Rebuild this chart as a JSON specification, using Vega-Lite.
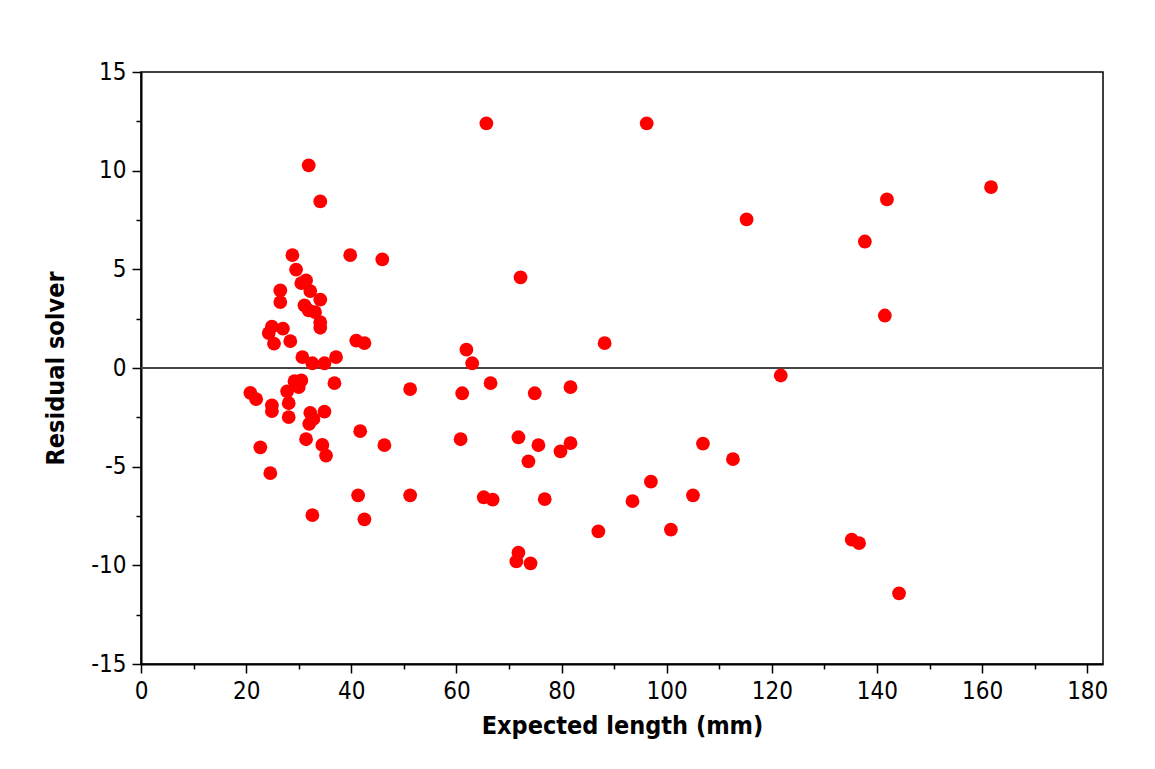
{
  "$schema": "https://vega.github.io/schema/vega-lite/v6.json",
  "width": 962,
  "height": 592,
  "autosize": "none",
  "padding": {"left": 141, "top": 72, "right": 52, "bottom": 105},
  "background": "white",
  "data": {
    "values": [
      {"expected": 20.8, "residual": -1.26}, {"expected": 21.9, "residual": -1.58},
      {"expected": 22.7, "residual": -4.02}, {"expected": 24.6, "residual": -5.33},
      {"expected": 24.9, "residual": -1.9}, {"expected": 24.9, "residual": -2.19},
      {"expected": 24.9, "residual": 2.1}, {"expected": 24.3, "residual": 1.77},
      {"expected": 25.3, "residual": 1.23}, {"expected": 27.0, "residual": 1.99},
      {"expected": 26.5, "residual": 3.93}, {"expected": 26.5, "residual": 3.34},
      {"expected": 28.4, "residual": 1.36}, {"expected": 28.8, "residual": 5.72},
      {"expected": 29.5, "residual": 4.99}, {"expected": 30.5, "residual": 4.3},
      {"expected": 31.4, "residual": 4.44}, {"expected": 32.2, "residual": 3.9},
      {"expected": 34.1, "residual": 3.47}, {"expected": 31.1, "residual": 3.17},
      {"expected": 31.9, "residual": 2.92}, {"expected": 33.1, "residual": 2.83},
      {"expected": 34.1, "residual": 2.32}, {"expected": 34.1, "residual": 2.04},
      {"expected": 31.9, "residual": 10.27}, {"expected": 34.1, "residual": 8.44},
      {"expected": 30.7, "residual": 0.55}, {"expected": 32.6, "residual": 0.24},
      {"expected": 34.9, "residual": 0.24}, {"expected": 37.1, "residual": 0.55},
      {"expected": 29.2, "residual": -0.67}, {"expected": 30.5, "residual": -0.63},
      {"expected": 30.0, "residual": -0.97}, {"expected": 27.8, "residual": -1.18},
      {"expected": 36.8, "residual": -0.77}, {"expected": 28.1, "residual": -1.78},
      {"expected": 28.1, "residual": -2.49}, {"expected": 32.2, "residual": -2.27},
      {"expected": 32.8, "residual": -2.58}, {"expected": 32.0, "residual": -2.83},
      {"expected": 34.9, "residual": -2.21}, {"expected": 31.4, "residual": -3.61},
      {"expected": 34.5, "residual": -3.9}, {"expected": 35.2, "residual": -4.44},
      {"expected": 32.6, "residual": -7.46}, {"expected": 39.8, "residual": 5.72},
      {"expected": 45.9, "residual": 5.5}, {"expected": 40.95, "residual": 1.39},
      {"expected": 42.5, "residual": 1.26}, {"expected": 41.7, "residual": -3.2},
      {"expected": 46.3, "residual": -3.91}, {"expected": 41.3, "residual": -6.45},
      {"expected": 42.5, "residual": -7.67}, {"expected": 51.2, "residual": -1.07},
      {"expected": 51.2, "residual": -6.45}, {"expected": 60.8, "residual": -3.61},
      {"expected": 61.1, "residual": -1.28}, {"expected": 61.9, "residual": 0.93},
      {"expected": 63.0, "residual": 0.24}, {"expected": 65.7, "residual": 12.4},
      {"expected": 66.5, "residual": -0.77}, {"expected": 65.2, "residual": -6.55},
      {"expected": 66.9, "residual": -6.67}, {"expected": 71.8, "residual": -3.51},
      {"expected": 72.2, "residual": 4.59}, {"expected": 73.7, "residual": -4.73},
      {"expected": 74.9, "residual": -1.28}, {"expected": 75.6, "residual": -3.91},
      {"expected": 76.8, "residual": -6.65}, {"expected": 71.8, "residual": -9.36},
      {"expected": 71.4, "residual": -9.8}, {"expected": 74.1, "residual": -9.9},
      {"expected": 79.8, "residual": -4.22}, {"expected": 81.7, "residual": -0.97},
      {"expected": 81.7, "residual": -3.81}, {"expected": 87.0, "residual": -8.28},
      {"expected": 88.2, "residual": 1.26}, {"expected": 93.5, "residual": -6.75},
      {"expected": 96.2, "residual": 12.4}, {"expected": 97.0, "residual": -5.76},
      {"expected": 100.8, "residual": -8.19}, {"expected": 105.0, "residual": -6.45},
      {"expected": 106.9, "residual": -3.83}, {"expected": 112.6, "residual": -4.62},
      {"expected": 115.2, "residual": 7.53}, {"expected": 121.7, "residual": -0.38},
      {"expected": 135.2, "residual": -8.7}, {"expected": 136.6, "residual": -8.88},
      {"expected": 137.7, "residual": 6.41}, {"expected": 141.5, "residual": 2.66},
      {"expected": 141.9, "residual": 8.54}, {"expected": 144.2, "residual": -11.42},
      {"expected": 161.7, "residual": 9.17}
    ]
  },
  "layer": [
    {
      "mark": {"type": "rule", "color": "#444444", "strokeWidth": 1.5},
      "encoding": {"y": {"datum": 0, "type": "quantitative"}}
    },
    {
      "mark": {"type": "circle", "color": "#ff0000", "opacity": 1, "size": 190},
      "encoding": {
        "x": {
          "field": "expected", "type": "quantitative",
          "scale": {"domain": [0, 183], "nice": false, "zero": false},
          "title": "Expected length (mm)",
          "axis": {
            "values": [0, 10, 20, 30, 40, 50, 60, 70, 80, 90, 100, 110, 120, 130, 140, 150, 160, 170, 180],
            "labelExpr": "datum.value % 20 === 0 ? '' + datum.value : ''",
            "tickSize": {"condition": {"test": "datum.value % 20 === 0", "value": 9}, "value": 5},
            "labelPadding": 6,
            "titlePadding": 10
          }
        },
        "y": {
          "field": "residual", "type": "quantitative",
          "scale": {"domain": [-15, 15], "nice": false, "zero": false},
          "title": "Residual solver",
          "axis": {
            "values": [-15, -12.5, -10, -7.5, -5, -2.5, 0, 2.5, 5, 7.5, 10, 12.5, 15],
            "labelExpr": "datum.value % 5 === 0 ? '' + datum.value : ''",
            "tickSize": {"condition": {"test": "datum.value % 5 === 0", "value": 9}, "value": 5},
            "labelPadding": 6,
            "titlePadding": 22
          }
        }
      }
    }
  ],
  "config": {
    "font": "DejaVu Sans Condensed",
    "view": {"stroke": "black", "strokeWidth": 1.5},
    "axis": {
      "grid": false,
      "domainColor": "black",
      "domainWidth": 2,
      "tickColor": "black",
      "tickWidth": 1.5,
      "labelColor": "black",
      "labelFont": "DejaVu Sans Condensed",
      "labelFontSize": 24,
      "labelFlush": false,
      "labelOverlap": false,
      "titleColor": "black",
      "titleFont": "DejaVu Sans Condensed",
      "titleFontSize": 25,
      "titleFontWeight": "bold"
    }
  }
}
